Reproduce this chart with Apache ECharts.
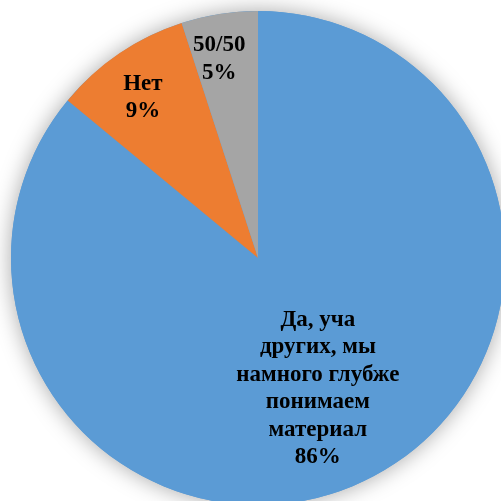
<!DOCTYPE html>
<html>
<head>
<meta charset="utf-8">
<script src="https://cdn.jsdelivr.net/npm/echarts@6/dist/echarts.min.js"></script>
<style>
  html, body { margin: 0; padding: 0; background: #fff; }
  #chart { width: 501px; height: 501px; }
</style>
</head>
<body>
<div id="chart"></div>
<script>
    // slice data, clockwise from 12 o'clock
    const categories = ['Да, уча\nдругих, мы\nнамного глубже\nпонимаем\nматериал', 'Нет', '50/50'];
    const values = [86, 9, 5];
    const colors = ['#5B9BD5', '#ED7D31', '#A5A5A5'];

    // per-slice label nudges relative to the default "inside" spot
    const labelShift = [[6, 16], [-44, -56], [-19, -74]];

    const chart = echarts.init(document.getElementById('chart'), null, { renderer: 'canvas' });

    const center = [258, 258];
    const radius = 247;

    chart.setOption({
        backgroundColor: '#fff',
        animation: false,
        series: [
            {
                // shadow disc drawn behind the slices
                type: 'pie',
                silent: true,
                center: center,
                radius: radius,
                label: { show: false },
                labelLine: { show: false },
                data: [{ value: 1, name: 'bg' }],
                itemStyle: {
                    color: '#5B9BD5',
                    shadowBlur: 22,
                    shadowColor: 'rgba(0,0,0,0.35)'
                }
            },
            {
                type: 'pie',
                center: center,
                radius: radius,
                startAngle: 90,
                clockwise: true,
                data: categories.map((c, i) => ({
                    name: c,
                    value: values[i],
                    itemStyle: { color: colors[i] }
                })),
                itemStyle: { borderWidth: 0 },
                label: {
                    show: true,
                    position: 'inside',
                    formatter: p => p.name + '\n' + p.value + '%',
                    fontFamily: '"Liberation Serif", "Times New Roman", serif',
                    fontWeight: 'bold',
                    fontSize: 23,
                    lineHeight: 27.5,
                    color: '#000',
                    align: 'center'
                },
                labelLine: { show: false },
                labelLayout: p => ({ dx: labelShift[p.dataIndex][0], dy: labelShift[p.dataIndex][1] })
            }
        ]
    });
</script>
</body>
</html>
